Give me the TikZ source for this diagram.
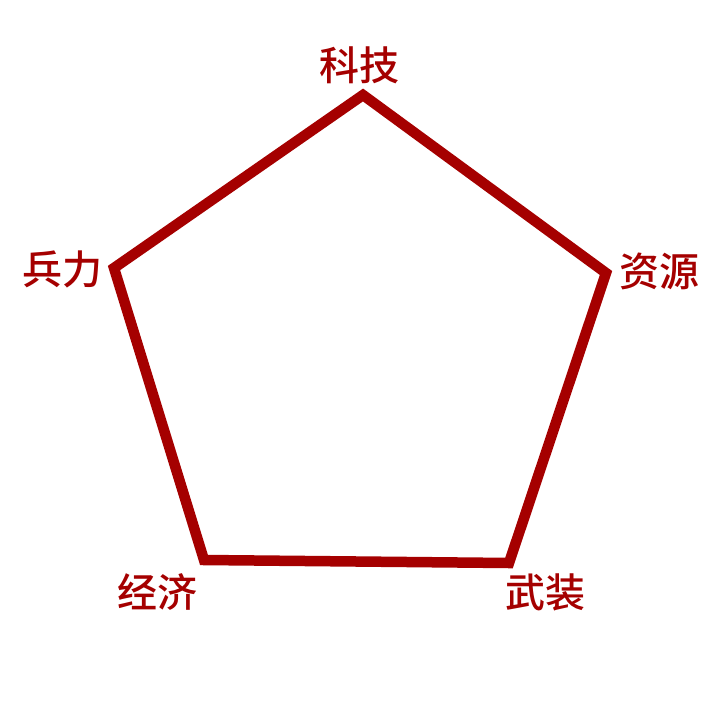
\documentclass[tikz,border=0pt]{standalone}
\usepackage{fontspec}
\newfontfamily\cjk{Noto Sans CJK SC Medium}
\definecolor{dred}{HTML}{A50000}
\begin{document}
\begin{tikzpicture}[x=1pt,y=-1pt,
  lab/.style={font=\cjk\fontsize{40}{44}\selectfont, text=dred, inner sep=0pt}]
\useasboundingbox (0,0) rectangle (720,720);
\coordinate (t) at (363,95);
\coordinate (r) at (606,273);
\coordinate (br) at (509,563);
\coordinate (bl) at (204,560);
\coordinate (l) at (114,268);
\draw[dred, line width=10.5pt, line join=miter] (t) -- (r) -- (br) -- (bl) -- (l) -- cycle;
\node[lab] (n1) at (359,65) {科技};
\node[lab] (n2) at (659,271) {资源};
\node[lab] (n3) at (545,592) {武装};
\node[lab] (n4) at (157,592) {经济};
\node[lab] (n5) at (63,269) {兵力};
\end{tikzpicture}
\end{document}
